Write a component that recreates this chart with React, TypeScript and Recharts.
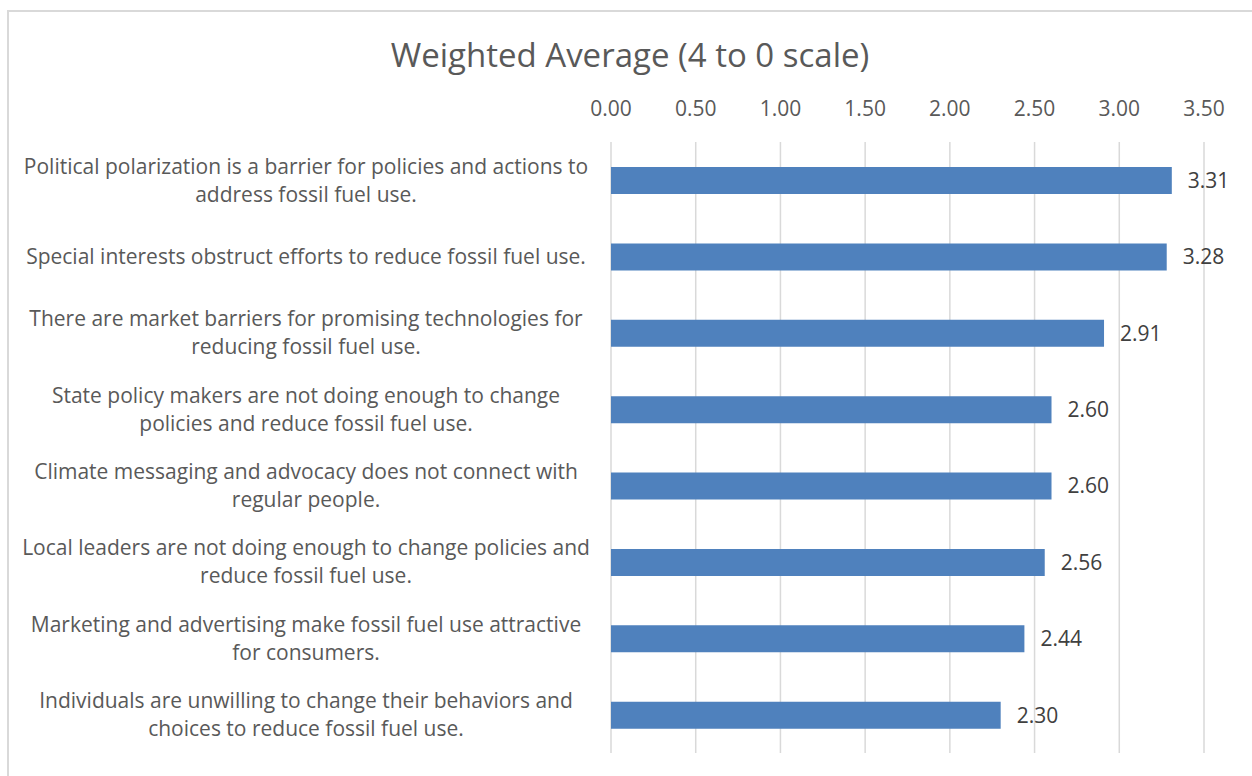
import React from 'react';
import { Bar, BarChart, CartesianGrid, LabelList, XAxis, YAxis } from 'recharts';

const categories = [
  'Political polarization is a barrier for policies and actions to\naddress fossil fuel use.',
  'Special interests obstruct efforts to reduce fossil fuel use.',
  'There are market barriers for promising technologies for\nreducing fossil fuel use.',
  'State policy makers are not doing enough to change\npolicies and reduce fossil fuel use.',
  'Climate messaging and advocacy does not connect with\nregular people.',
  'Local leaders are not doing enough to change policies and\nreduce fossil fuel use.',
  'Marketing and advertising make fossil fuel use attractive\nfor consumers.',
  'Individuals are unwilling to change their behaviors and\nchoices to reduce fossil fuel use.',
];
const averages = [3.31, 3.28, 2.91, 2.6, 2.6, 2.56, 2.44, 2.3];
const xTicks = [0, 0.5, 1, 1.5, 2, 2.5, 3, 3.5];

const data = categories.map((name, i) => ({ name, value: averages[i] }));

const FONT = '"Open Sans", Lato, sans-serif';

function CategoryTick({ y, payload }: any) {
  const lines: string[] = String(payload.value).split('\n');
  const lineH = 28;
  const startY = y - ((lines.length - 1) * lineH) / 2;
  return (
    <text x={306} y={startY} textAnchor="middle" fill="#595959" fontSize={21} fontFamily={FONT}>
      {lines.map((l, i) => (
        <tspan key={i} x={306} y={startY + i * lineH} dy="0.35em">
          {l}
        </tspan>
      ))}
    </text>
  );
}

export default function App() {
  return (
    <div style={{ position: 'absolute', left: 0, top: 0, width: 1252, height: 776, background: '#fff', overflow: 'hidden' }}>
      <div
        style={{
          position: 'absolute',
          left: 7,
          top: 10,
          width: 1260,
          height: 780,
          border: '2px solid #d9d9d9',
          boxSizing: 'border-box',
        }}
      />
      <div
        style={{
          position: 'absolute',
          left: 0,
          top: 32,
          width: 1260,
          textAlign: 'center',
          fontFamily: FONT,
          fontSize: 33,
          color: '#595959',
        }}
      >
        Weighted Average (4 to 0 scale)
      </div>
      <div style={{ position: 'absolute', left: 0, top: 0 }}>
        <BarChart
          width={1252}
          height={776}
          data={data}
          layout="vertical"
          margin={{ top: 92, right: 48, bottom: 23, left: 0 }}
        >
          <CartesianGrid horizontal={false} stroke="#d9d9d9" strokeWidth={1.5} />
          <XAxis
            type="number"
            orientation="top"
            domain={[0, 3.5]}
            ticks={xTicks}
            height={50}
            axisLine={false}
            tickLine={false}
            tickMargin={20}
            tickFormatter={(v: number) => v.toFixed(2)}
            tick={{ fill: '#595959', fontSize: 21, fontFamily: FONT }}
            interval={0}
          />
          <YAxis
            type="category"
            dataKey="name"
            width={611}
            axisLine={false}
            tickLine={false}
            tick={<CategoryTick />}
            interval={0}
          />
          <Bar dataKey="value" fill="#4F81BD" barSize={27} isAnimationActive={false}>
            <LabelList
              dataKey="value"
              position="right"
              offset={16}
              formatter={(v: any) => Number(v).toFixed(2)}
              fill="#404040"
              fontSize={21}
              fontFamily={FONT}
            />
          </Bar>
        </BarChart>
      </div>
    </div>
  );
}
